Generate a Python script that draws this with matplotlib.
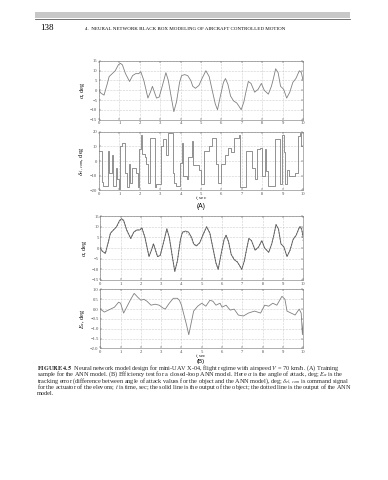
import matplotlib
matplotlib.use("Agg")
import matplotlib.pyplot as plt
from matplotlib.patches import Rectangle
from matplotlib.lines import Line2D

plt.rcParams["font.family"] = ["Liberation Serif", "DejaVu Serif"]
plt.rcParams["mathtext.fontset"] = "stix"

# angle of attack, object output (panels A1 and B1)
t_alpha = [0, 0.1, 0.25, 0.4, 0.5, 0.65, 0.8, 0.95, 1.05, 1.15, 1.3, 1.5, 1.65,
           1.8, 1.95, 2.05, 2.2, 2.4, 2.52, 2.62, 2.72, 2.82, 2.95, 3.1, 3.28,
           3.4, 3.55, 3.67, 3.8, 3.95, 4.05, 4.2, 4.35, 4.5, 4.6, 4.73, 4.9,
           5.05, 5.24, 5.4, 5.55, 5.7, 5.81, 5.95, 6.1, 6.2, 6.32, 6.45, 6.6,
           6.75, 6.85, 6.97, 7.1, 7.2, 7.32, 7.45, 7.63, 7.8, 7.96, 8.1, 8.3,
           8.45, 8.55, 8.66, 8.78, 8.9, 9.05, 9.2, 9.35, 9.5, 9.65, 9.82, 9.92, 10]
alpha = [0, -1.5, -2.5, 3, 7, 8.5, 10, 13, 13.8, 13, 8.5, 4.5, 7.5, 8.5, 8.5,
         9.5, 5, -4, -1, 2, -1, -4, -3.5, 2, 9, 5, -4, -11, -6, 4, 7.5, 8, 7.5,
         5, 2, 1, 2.5, 6, 10, 7, 0, -7, -10, -3, 4, 6, 3, -3, -5.5, -6.5, -8,
         -10, -6, -1, 4.5, 3.5, -1, 0.5, 3.5, 0, -2, 2, 6, 11, 9, 2, 0.5, -4,
         -1, 4, 6, 10, 9, 5]
# angle of attack, ANN model output (panel B1, dotted)
alpha_ann = [0, -1.5, -2.5, 3, 7, 8.5, 10, 12.5, 13.5, 13, 8.5, 4.5, 7.5, 8.5,
             8.5, 9.5, 5, -4, -1, 2, -1, -4, -3.5, 2, 9, 5, -4, -11, -6, 4,
             7.5, 7.5, 6.5, 4.5, 2, 1, 2.5, 6, 10, 7, 0, -7, -10, -3, 4, 6, 3,
             -3, -5, -6.5, -8, -10, -6, -1, 4.5, 3.5, -1, 0.5, 3.5, 0, -2, 2,
             6, 11, 9, 2, 0.5, -4, -1, 4, 6, 10, 10, 3]

# elevon command, step signal (panel A2)
t_cmd = [0, 0.13, 0.22, 0.45, 0.48, 0.62, 0.67, 0.83, 0.87, 0.97, 1.03, 1.15,
         1.27, 1.39, 1.45, 1.52, 1.6, 1.83, 1.92, 1.97, 2.08, 2.1, 2.25, 2.3,
         2.4, 2.5, 2.74, 2.77, 2.82, 3.05, 3.15, 3.3, 3.4, 3.62, 3.66, 3.8,
         3.96, 4.05, 4.13, 4.3, 4.37, 4.55, 4.6, 4.9, 5.0, 5.13, 5.4, 5.56,
         5.72, 5.83, 6.0, 6.18, 6.3, 6.46, 6.6, 6.84, 6.9, 7.23, 7.5, 7.52,
         7.65, 7.75, 7.87, 8.0, 8.12, 8.2, 8.3, 8.62, 8.85, 8.95, 9.05, 9.1,
         9.22, 9.3, 9.6, 9.77, 9.85, 9.92, 9.98, 10]
cmd = [7, -14, -17, 7, -8, 4, -17, -5, -12, -19, 10, 12, -8, -18, -2, -15, -5,
       -8, -18, 8, 18, 5, 3, -2, -15, 16, -2, -18, -16, 10, 15, 4, 19, -8,
       -15, -17, -1, 12, -10, -12, 3, 14, -3, -6, -16, 7, 10, 16, -2, -15, -2,
       4, 9, 6, 16, 18, -18, 7, -1, -5, -12, 8, 9, -10, 8, -7, -17, 15, -16,
       18, 6, -16, -6, -10, -8, 17, 19, 10, -9, -9]

# tracking error (panel B2)
t_err = [0, 0.2, 0.5, 0.7, 0.9, 1.0, 1.15, 1.3, 1.5, 1.67, 1.85, 2.0, 2.15,
         2.3, 2.5, 2.7, 2.9, 3.1, 3.2, 3.4, 3.6, 3.8, 3.9, 4.0, 4.1, 4.25,
         4.36, 4.5, 4.6, 4.8, 5.0, 5.2, 5.4, 5.55, 5.7, 5.9, 6.0, 6.2, 6.4,
         6.6, 6.8, 7.05, 7.3, 7.6, 7.9, 8.1, 8.3, 8.5, 8.7, 8.95, 9.1, 9.2,
         9.4, 9.6, 9.8, 9.9, 9.96, 10]
err = [0, -0.15, 0, 0.1, 0.35, 0.3, -0.2, 0.1, 0.5, 0.8, 0.6, 0.45, 0.5, 0.4,
       0.2, 0.25, 0.2, 0.05, 0, 0.3, 0.55, 0.55, 0.45, 0.2, -0.2, -0.8, -1.3,
       -0.6, -0.1, 0.15, 0.3, 0.15, 0.45, 0.4, 0.2, 0.3, 0.1, 0.2, -0.05, 0,
       -0.3, -0.35, -0.2, -0.1, -0.2, 0.2, 0.15, 0.3, 0.2, 0.65, 0.5, -0.1,
       -0.2, -0.3, 0, -0.2, -1.3, -0.7]

fig = plt.figure(figsize=(3.88, 4.80), dpi=100)


def fy(y):
    # pixel row from the top -> figure fraction
    return 1 - y / 480


# running head
fig.patches.append(Rectangle((35 / 388, fy(18.3)), 315 / 388, 6.6 / 480,
                             transform=fig.transFigure, color="#c8c8c8", lw=0))
fig.lines.append(Line2D([35 / 388, 350 / 388], [fy(19), fy(19)],
                        transform=fig.transFigure, color="0.35", lw=0.6))
fig.text(40 / 388, fy(28.5), "138", fontsize=6.5, va="center")
fig.text(85 / 388, fy(28.5),
         "4.  NEURAL NETWORK BLACK BOX MODELING OF AIRCRAFT CONTROLLED MOTION",
         fontsize=3.65, va="center")


def style(ax, yt, ylim):
    ax.set_xlim(0, 10)
    ax.set_ylim(*ylim)
    ax.set_xticks(range(11))
    ax.set_yticks(yt)
    ax.tick_params(direction="in", length=1.5, width=0.35, labelsize=3.3,
                   pad=1.2, top=True, right=True, colors="0.3")
    ax.grid(ls=":", color="0.65", lw=0.4)
    for s in ax.spines.values():
        s.set_color("0.45")
        s.set_linewidth(0.4)


lw_ = 0.6
ax1 = fig.add_axes([0.255, 0.751, 0.526, 0.122])
ax1.plot(t_alpha, alpha, color="0.5", lw=lw_)
style(ax1, [-15, -10, -5, 0, 5, 10, 15], (-15, 15))
ax1.set_ylabel(r"$\alpha$, deg", fontsize=4.5, labelpad=2)

ax2 = fig.add_axes([0.255, 0.6035, 0.526, 0.122])
ax2.plot(t_cmd, cmd, color="0.5", lw=lw_, drawstyle="steps-post")
style(ax2, [-20, -10, 0, 10, 20], (-20, 20))
ax2.set_ylabel(r"$\delta_{el,\,com}$, deg", fontsize=4.5, labelpad=2)
fig.text(0.517, fy(198.5), r"$t$, sec", fontsize=3.6, ha="center", va="center")
fig.text(0.517, fy(206.5), "(A)", fontsize=4.8, ha="center", va="center",
         family=["Liberation Sans", "DejaVu Sans"])

ax3 = fig.add_axes([0.2585, 0.4167, 0.523, 0.133])
ax3.plot(t_alpha, alpha_ann, color="0.6", lw=0.8, ls=":")
ax3.plot(t_alpha, alpha, color="0.35", lw=lw_)
style(ax3, [-15, -10, -5, 0, 5, 10, 15], (-15, 15))
ax3.set_ylabel(r"$\alpha$, deg", fontsize=4.5, labelpad=2)

ax4 = fig.add_axes([0.2585, 0.274, 0.523, 0.123])
ax4.plot(t_err, err, color="0.5", lw=lw_)
style(ax4, [-2, -1.5, -1, -0.5, 0, 0.5, 1], (-2, 1))
ax4.set_ylabel(r"$E_{\alpha}$, deg", fontsize=4.5, labelpad=2)
fig.text(0.517, fy(356.3), r"$t$, sec", fontsize=3.5, ha="center", va="center")
fig.text(0.517, fy(361.6), "(B)", fontsize=4.4, ha="center", va="center",
         family=["Liberation Sans", "DejaVu Sans"])

# caption
cap = [
    r"$\bf{FIGURE\ 4.5}$  Neural network model design for mini-UAV X-04, flight regime with airspeed $V$ = 70 km/h. (A) Training",
    r"sample for the ANN model. (B) Efficiency test for a closed-loop ANN model. Here $\alpha$ is the angle of attack, deg; $E_\alpha$ is the",
    r"tracking error (difference between angle of attack values for the object and the ANN model), deg; $\delta_{el,\,com}$ is command signal",
    r"for the actuator of the elevons; $t$ is time, sec; the solid line is the output of the object; the dotted line is the output of the ANN",
    "model.",
]
for i, line in enumerate(cap):
    fig.text(37 / 388, fy(368 + 6.3 * i), line, fontsize=4.5,
             va="center", color="0.15")

fig.savefig("out.png", dpi=100)
